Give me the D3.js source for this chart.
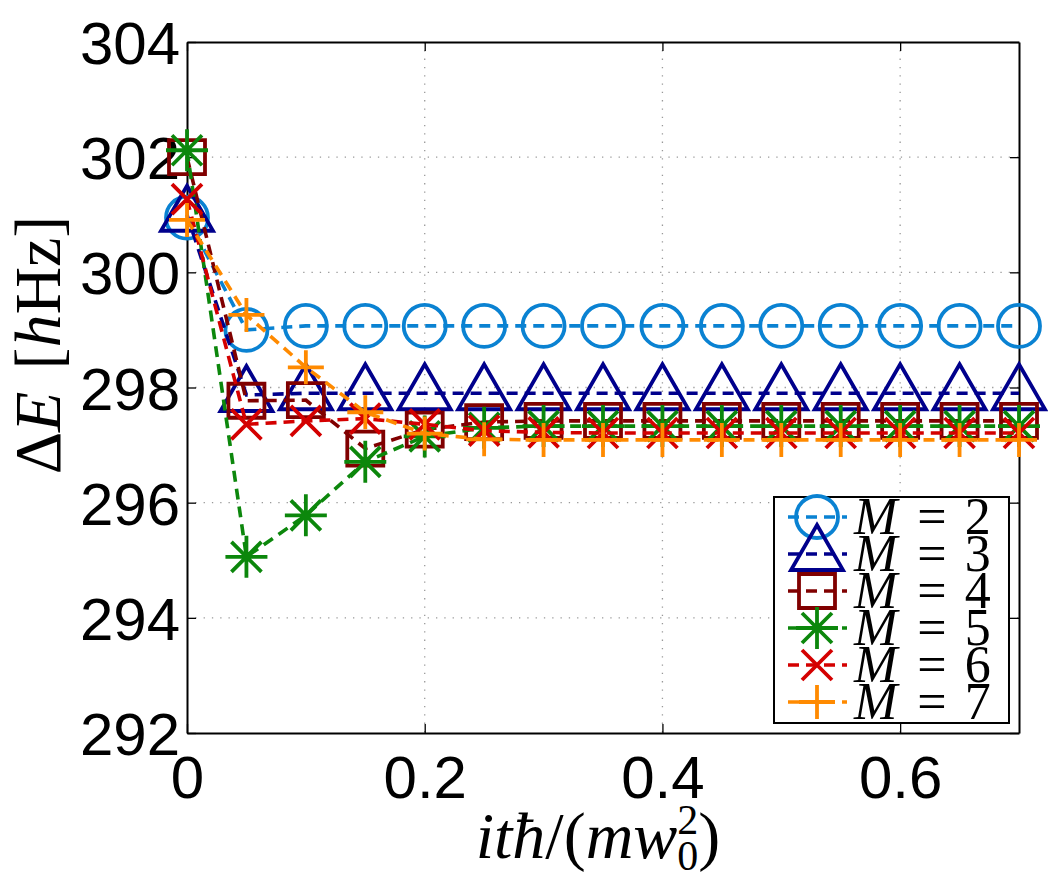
<!DOCTYPE html>
<html>
<head>
<meta charset="utf-8">
<script src="https://cdn.jsdelivr.net/npm/d3@7"></script>
<style>
  body { margin: 0; background: #fff; }
  .tick text { font-family: "Liberation Sans", Arial, sans-serif; }
</style>
</head>
<body>
<svg id="chart"></svg>
<script>
// ---- datos ----
var tiempos = [0, 0.05, 0.1, 0.15, 0.2, 0.25, 0.3, 0.35, 0.4, 0.45, 0.5, 0.55, 0.6, 0.65, 0.7];

var serieM2 = [300.95, 299.0, 299.07, 299.07, 299.07, 299.07, 299.07, 299.07, 299.07, 299.07, 299.07, 299.07, 299.07, 299.07, 299.07];
var serieM3 = [301.0, 297.87, 297.9, 297.9, 297.9, 297.9, 297.9, 297.9, 297.9, 297.9, 297.9, 297.9, 297.9, 297.9, 297.9];
var serieM4 = [302.0, 297.77, 297.78, 296.94, 297.27, 297.4, 297.42, 297.42, 297.42, 297.42, 297.42, 297.42, 297.42, 297.42, 297.42];
var serieM5 = [302.12, 295.06, 295.78, 296.71, 297.15, 297.3, 297.33, 297.33, 297.33, 297.33, 297.33, 297.33, 297.33, 297.33, 297.33];
var serieM6 = [301.27, 297.36, 297.42, 297.46, 297.36, 297.25, 297.22, 297.21, 297.21, 297.21, 297.21, 297.21, 297.21, 297.21, 297.21];
var serieM7 = [300.91, 299.26, 298.35, 297.57, 297.2, 297.1, 297.09, 297.09, 297.09, 297.09, 297.09, 297.09, 297.09, 297.09, 297.09];

var etiquetasM = ["2", "3", "4", "5", "6", "7"];
var xTicks = [0, 0.2, 0.4, 0.6];
var yTicks = [292, 294, 296, 298, 300, 302, 304];

// ---- configuracion ----
var w = 1048, h = 878;
var margin = {left: 187, top: 42, right: 1048 - 1019, bottom: 878 - 733};

var series = [
  {valores: serieM2, color: "#0a82d2", marca: "circulo"},
  {valores: serieM3, color: "#00008c", marca: "triangulo"},
  {valores: serieM4, color: "#800000", marca: "cuadro"},
  {valores: serieM5, color: "#0c870c", marca: "asterisco"},
  {valores: serieM6, color: "#d40000", marca: "equis"},
  {valores: serieM7, color: "#ff8a00", marca: "cruz"}
];

// forma de cada marcador, centrado en (0,0)
function marcaPath(tipo) {
  switch (tipo) {
    case "circulo":
      return "M21,0A21,21 0 1,1 -21,0A21,21 0 1,1 21,0Z";
    case "triangulo":
      return "M0,-29L26,16L-26,16Z";
    case "cuadro":
      return "M-18,-17H18V17H-18Z";
    case "asterisco":
      return "M-21,0H21M0,-21V21M-15,-15L15,15M-15,15L15,-15";
    case "equis":
      return "M-15,-15L15,15M-15,15L15,-15";
    case "cruz":
      return "M-18,0H18M0,-17V17";
  }
}

var svg = d3.select("#chart")
  .attr("width", w)
  .attr("height", h);

var xScale = d3.scaleLinear()
  .domain([0, 0.7])
  .range([margin.left, w - margin.right]);

var yScale = d3.scaleLinear()
  .domain([292, 304])
  .range([h - margin.bottom, margin.top]);

// cuadricula punteada
svg.append("g")
  .selectAll("line.gx")
  .data(xTicks.slice(1))
  .enter().append("line")
  .attr("x1", d => xScale(d)).attr("x2", d => xScale(d))
  .attr("y1", margin.top).attr("y2", h - margin.bottom)
  .attr("stroke", "#999").attr("stroke-width", 1.3)
  .attr("stroke-dasharray", "1.3,7");

svg.append("g")
  .selectAll("line.gy")
  .data(yTicks.slice(1, -1))
  .enter().append("line")
  .attr("x1", margin.left).attr("x2", w - margin.right)
  .attr("y1", d => yScale(d)).attr("y2", d => yScale(d))
  .attr("stroke", "#999").attr("stroke-width", 1.3)
  .attr("stroke-dasharray", "1.3,7");

// ejes
var xAxisBottom = d3.axisBottom(xScale)
  .tickValues(xTicks)
  .tickFormat(d3.format("~g"))
  .tickSizeInner(-9).tickSizeOuter(0).tickPadding(22);

var xAxisTop = d3.axisTop(xScale)
  .tickValues(xTicks)
  .tickFormat("")
  .tickSizeInner(-9).tickSizeOuter(0);

var yAxisLeft = d3.axisLeft(yScale)
  .tickValues(yTicks)
  .tickSizeInner(-9).tickSizeOuter(0).tickPadding(7);

var yAxisRight = d3.axisRight(yScale)
  .tickValues(yTicks)
  .tickFormat("")
  .tickSizeInner(-9).tickSizeOuter(0);

function estiloEje(g) {
  g.select(".domain").attr("stroke", "#000").attr("stroke-width", 2);
  g.selectAll(".tick line").attr("stroke", "#000").attr("stroke-width", 1.3);
  g.selectAll(".tick text").attr("fill", "#000").style("font-size", "60px");
}

svg.append("g")
  .attr("transform", "translate(0," + (h - margin.bottom) + ")")
  .call(xAxisBottom).call(estiloEje);

svg.append("g")
  .attr("transform", "translate(0," + margin.top + ")")
  .call(xAxisTop).call(estiloEje);

svg.append("g")
  .attr("transform", "translate(" + margin.left + ",0)")
  .call(yAxisLeft).call(estiloEje)
  .selectAll(".tick text").attr("dy", "0.36em");

svg.append("g")
  .attr("transform", "translate(" + (w - margin.right) + ",0)")
  .call(yAxisRight).call(estiloEje);

// lineas y marcadores
var line = d3.line()
  .x((d, i) => xScale(tiempos[i]))
  .y(d => yScale(d));

series.forEach(function (s) {
  var g = svg.append("g");
  g.append("path")
    .datum(s.valores)
    .attr("d", line)
    .attr("fill", "none")
    .attr("stroke", s.color)
    .attr("stroke-width", 3.6)
    .attr("stroke-dasharray", "11,7");
  g.selectAll("path.marca")
    .data(s.valores)
    .enter().append("path")
    .attr("transform", (d, i) => "translate(" + xScale(tiempos[i]) + "," + yScale(d) + ")")
    .attr("d", marcaPath(s.marca))
    .attr("fill", "none")
    .attr("stroke", s.color)
    .attr("stroke-width", 3.8);
});

// leyenda
var leyenda = svg.append("g").attr("transform", "translate(774,497)");
leyenda.append("rect")
  .attr("width", 235).attr("height", 226)
  .attr("fill", "#fff").attr("stroke", "#000").attr("stroke-width", 2);

series.forEach(function (s, i) {
  var y = 20 + i * 37;
  leyenda.append("line")
    .attr("x1", 13).attr("x2", 73).attr("y1", y).attr("y2", y)
    .attr("stroke", s.color).attr("stroke-width", 3.6)
    .attr("stroke-dasharray", "11,7").attr("stroke-dashoffset", -1);
  leyenda.append("path")
    .attr("transform", "translate(43," + y + ")")
    .attr("d", marcaPath(s.marca))
    .attr("fill", "none").attr("stroke", s.color).attr("stroke-width", 3.8);
  var t = leyenda.append("text")
    .attr("x", 80).attr("y", y + 17)
    .style("font-family", "'Liberation Serif', serif")
    .style("font-size", "52px");
  t.append("tspan").style("font-style", "italic").text("M");
  t.append("tspan").attr("dx", 20).text("=");
  t.append("tspan").attr("dx", 18).text(etiquetasM[i]);
});

// etiqueta del eje de y
var ty = svg.append("text")
  .attr("transform", "translate(60," + 345 + ") rotate(-90)")
  .style("text-anchor", "middle")
  .style("font-family", "'Liberation Serif', serif")
  .style("font-size", "66px");
ty.append("tspan").text("Δ");
ty.append("tspan").style("font-style", "italic").text("E");
ty.append("tspan").attr("dx", 22).text("[");
ty.append("tspan").style("font-style", "italic").text("h");
ty.append("tspan").text("Hz]");

// etiqueta del eje de x
var tx = svg.append("text")
  .attr("x", 598).attr("y", 858)
  .style("text-anchor", "middle")
  .style("font-family", "'Liberation Serif', serif")
  .style("font-size", "66px");
tx.append("tspan").style("font-style", "italic").text("it");
tx.append("tspan").style("font-style", "italic").text("ħ");
tx.append("tspan").text("/(");
tx.append("tspan").style("font-style", "italic").text("mw");
tx.append("tspan").attr("dy", 12).style("font-size", "42px").text("0");
tx.append("tspan").attr("dx", -21).attr("dy", -36).style("font-size", "42px").text("2");
tx.append("tspan").attr("dy", 24).text(")");
</script>
</body>
</html>
